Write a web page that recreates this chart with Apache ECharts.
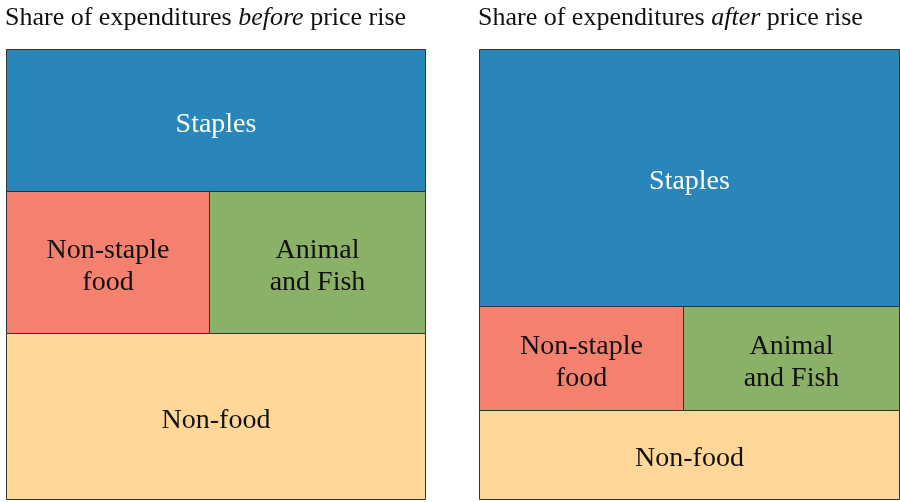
<!DOCTYPE html>
<html>
<head>
<meta charset="utf-8">
<script src="https://cdn.jsdelivr.net/npm/echarts@6/dist/echarts.min.js"></script>
<style>
  html, body { margin: 0; padding: 0; background: #fff; }
  #main { width: 900px; height: 502px; }
</style>
</head>
<body>
<div id="main"></div>
<script>
// shares of expenditure (%)
const categories = ["Staples", "Non-staple\nfood", "Animal\nand Fish", "Non-food"];
const sharesBefore = [31.6, 15.3, 16.3, 36.8];
const sharesAfter = [57.1, 11.2, 11.9, 19.8];
const titles = ["before", "after"];

const colors = ["#2a86b8", "#f4806f", "#8bb068", "#fed799"];
const labelColors = ["#ffffff", "#111111", "#111111", "#111111"];
const serif = "'Liberation Serif', 'DejaVu Serif', serif";

// turn the four shares into mosaic cells: staples on top, the two food
// types side by side in the middle, non-food at the bottom
function cells(shares) {
  const [st, ns, an, nf] = shares;
  const mid = ns + an;
  const split = (ns / mid) * 100;
  return [
    [0, 100, 0, st, 0],
    [0, split, st, st + mid, 1],
    [split, 100, st, st + mid, 2],
    [0, 100, st + mid, st + mid + nf, 3],
  ];
}

function renderItem(params, api) {
  const p0 = api.coord([api.value(0), api.value(2)]);
  const p1 = api.coord([api.value(1), api.value(3)]);
  const idx = api.value(4);
  return {
    type: "rect",
    shape: {
      x: Math.round(p0[0]) + 0.5,
      y: Math.round(p0[1]) + 0.5,
      width: Math.round(p1[0]) - Math.round(p0[0]),
      height: Math.round(p1[1]) - Math.round(p0[1]),
    },
    style: { fill: colors[idx], stroke: "#333", lineWidth: 1 },
    textContent: {
      style: {
        text: categories[idx],
        fill: labelColors[idx],
        font: "28px " + serif,
        lineHeight: 32,
        align: "center",
        verticalAlign: "middle",
      },
    },
    textConfig: { position: "inside", offset: [0, 4] },
  };
}

const grids = [
  { left: 6, top: 49, width: 419, height: 450 },
  { left: 479, top: 49, width: 420, height: 450 },
];

const chart = echarts.init(document.getElementById("main"), null, { renderer: "canvas" });

chart.setOption({
  animation: false,
  title: titles.map((w, i) => ({
    text: "Share of expenditures {it|" + w + "} price rise",
    left: grids[i].left - 1,
    top: 5,
    padding: 0,
    textStyle: {
      fontFamily: serif,
      fontWeight: "normal",
      fontSize: 26,
      color: "#111",
      rich: {
        it: { fontFamily: serif, fontStyle: "italic", fontSize: 26, color: "#111" },
      },
    },
  })),
  grid: grids,
  xAxis: grids.map((g, i) => ({
    type: "value", gridIndex: i, min: 0, max: 100, show: false,
  })),
  yAxis: grids.map((g, i) => ({
    type: "value", gridIndex: i, min: 0, max: 100, inverse: true, show: false,
  })),
  series: [sharesBefore, sharesAfter].map((s, i) => ({
    type: "custom",
    xAxisIndex: i,
    yAxisIndex: i,
    renderItem,
    data: cells(s),
    silent: true,
  })),
});
</script>
</body>
</html>
